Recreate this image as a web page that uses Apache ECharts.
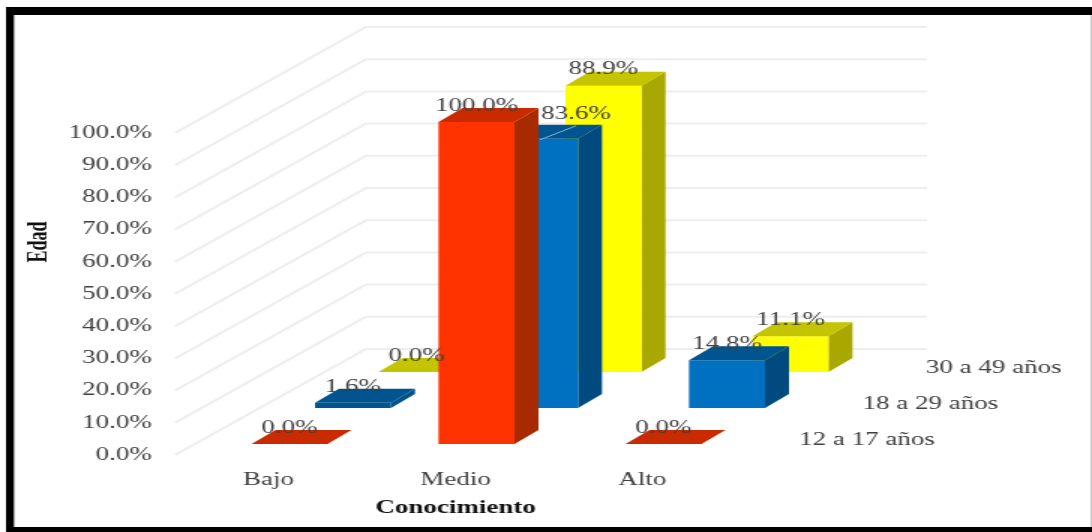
<!DOCTYPE html>
<html>
<head>
<meta charset="utf-8">
<style>
html,body{margin:0;padding:0;background:#fff;overflow:hidden}
#chart{position:absolute;left:0;top:0;width:728px;height:532px;transform:scaleX(1.5);transform-origin:0 0;filter:blur(0.4px)}
</style>
<script src="https://cdn.jsdelivr.net/npm/echarts@6/dist/echarts.min.js"></script>
</head>
<body>
<div id="chart"></div>
<script>
const categories = ['Bajo', 'Medio', 'Alto'];
const ageGroups = ['12 a 17 años', '18 a 29 años', '30 a 49 años'];
const values12a17 = [0.0, 100.0, 0.0];
const values18a29 = [1.6, 83.6, 14.8];
const values30a49 = [0.0, 88.9, 11.1];
const yTicks = [0, 10, 20, 30, 40, 50, 60, 70, 80, 90, 100];

const SX = 1.5; // the whole picture is stretched horizontally
const X = v => v / SX;
const FONT = '18px "Liberation Serif", serif';
const TXT = '#404040';
const faces = [
  { front: '#FF3300', top: '#C92A00', side: '#A82A00' },
  { front: '#0070C0', top: '#00548F', side: '#004A80' },
  { front: '#FFFF00', top: '#C4C400', side: '#A8A800' }
];
// depth projection
const WALL_DX = X(191), WALL_DY = -106;
const SLOT_DX = X(63.5), SLOT_DY = -36;
const START_DX = X(21), START_DY = -11;
const BAR_W = X(76), BAR_DX = X(24), BAR_DY = -14;

const chart = echarts.init(document.getElementById('chart'), null, { renderer: 'canvas', width: 728, height: 532 });

function wallItem(params, api) {
  const v = api.value(1);
  const p = api.coord([0, v]);
  const cs = params.coordSys;
  const x0 = cs.x, y0 = p[1];
  return {
    type: 'polyline',
    shape: { points: [[x0, y0], [x0 + WALL_DX, y0 + WALL_DY], [X(927), y0 + WALL_DY]] },
    style: { stroke: '#EEEEEE', lineWidth: 2, fill: null },
    silent: true
  };
}

function barRenderer(s) {
  return function (params, api) {
    const cat = api.value(0), v = api.value(1);
    const c = api.coord([cat, 0]), t = api.coord([cat, v]);
    const ox = START_DX + s * SLOT_DX, oy = START_DY + s * SLOT_DY;
    const l = c[0] + ox - BAR_W / 2, r = l + BAR_W;
    const yb = c[1] + oy, yt = t[1] + oy;
    const f = faces[s];
    const thin = yb - yt < 8;
    const kids = [];
    if (yb - yt > 0.5) {
      kids.push({ type: 'polygon', shape: { points: [[r, yt], [r + BAR_DX, yt + BAR_DY], [r + BAR_DX, yb + BAR_DY], [r, yb]] }, style: { fill: thin ? f.top : f.side } });
      kids.push({ type: 'rect', shape: { x: l, y: yt, width: BAR_W, height: yb - yt }, style: { fill: thin ? f.top : f.front } });
    }
    kids.push({ type: 'polygon', shape: { points: [[l, yt], [r, yt], [r + BAR_DX, yt + BAR_DY], [l + BAR_DX, yt + BAR_DY]] }, style: { fill: f.top } });
    // the one label that was moved aside in the source, with its leader line
    const moved = s === 1 && cat === 1;
    const lx = c[0] + ox + (moved ? X(36) : 0);
    const ly = yt - 16 - (moved ? 9 : 0);
    if (moved) {
      kids.push({ type: 'line', shape: { x1: c[0] + ox, y1: yt + 1, x2: lx, y2: yt - 13 }, style: { stroke: '#7FB4E6', lineWidth: 1 }, z2: 50 });
    }
    kids.push({
      type: 'text', x: lx, y: ly, z2: 100,
      style: { text: v.toFixed(1) + '%', font: FONT, fill: TXT, align: 'center', verticalAlign: 'middle' }
    });
    if (params.dataIndex === categories.length - 1) {
      kids.push({
        type: 'text', x: X(799) + s * SLOT_DX, y: c[1] - 15 + s * SLOT_DY, z2: 100,
        style: { text: ageGroups[s], font: FONT, fill: TXT, align: 'left', verticalAlign: 'middle' }
      });
    }
    return { type: 'group', children: kids };
  };
}

const valueSets = [values12a17, values18a29, values30a49];
const barSeries = [2, 1, 0].map(s => ({
  type: 'custom',
  name: ageGroups[s],
  coordinateSystem: 'cartesian2d',
  renderItem: barRenderer(s),
  encode: { x: 0, y: 1 },
  clip: false,
  data: categories.map((c, i) => [i, valueSets[s][i]])
}));

chart.setOption({
  animation: false,
  backgroundColor: '#fff',
  tooltip: { show: false },
  legend: { show: false },
  grid: { left: X(175), right: 728 - X(736), top: 133, bottom: 532 - 455, containLabel: false },
  xAxis: {
    type: 'category',
    data: categories,
    axisLine: { show: false },
    axisTick: { show: false },
    splitLine: { show: false },
    axisLabel: { margin: 16, fontFamily: 'Liberation Serif', fontSize: 18, color: TXT },
    name: 'Conocimiento',
    nameLocation: 'middle',
    nameGap: 44,
    nameTextStyle: { fontFamily: 'Liberation Serif', fontWeight: 'bold', fontSize: 18, color: '#111' }
  },
  yAxis: {
    type: 'value',
    min: 0,
    max: 100,
    interval: 10,
    axisLine: { show: false },
    axisTick: { show: false },
    splitLine: { show: false },
    axisLabel: { margin: X(23), padding: [4, 0, 0, 0], fontFamily: 'Liberation Serif', fontSize: 18, color: TXT, formatter: v => v.toFixed(1) + '%' },
    name: 'Edad',
    nameLocation: 'middle',
    nameGap: X(122),
    nameRotate: 90,
    nameTextStyle: { fontFamily: 'Liberation Serif', fontWeight: 'bold', fontSize: 18, color: '#111', padding: [0, 0, 0, 104] }
  },
  graphic: [
    { type: 'rect', silent: true, shape: { x: X(6), y: 7, width: 728 - X(6), height: 8 }, style: { fill: '#000' } },
    { type: 'rect', silent: true, shape: { x: X(6), y: 7, width: X(8), height: 525 }, style: { fill: '#000' } },
    { type: 'rect', silent: true, shape: { x: X(6), y: 527, width: 728 - X(6), height: 5 }, style: { fill: '#000' } },
    { type: 'rect', silent: true, shape: { x: X(1091), y: 15, width: X(1), height: 512 }, style: { fill: '#AAAAAA' } }
  ],
  series: [{
    type: 'custom',
    name: 'wall',
    coordinateSystem: 'cartesian2d',
    renderItem: wallItem,
    encode: { x: 0, y: 1 },
    clip: false,
    data: yTicks.map(v => [0, v])
  }].concat(barSeries)
});
</script>
</body>
</html>
